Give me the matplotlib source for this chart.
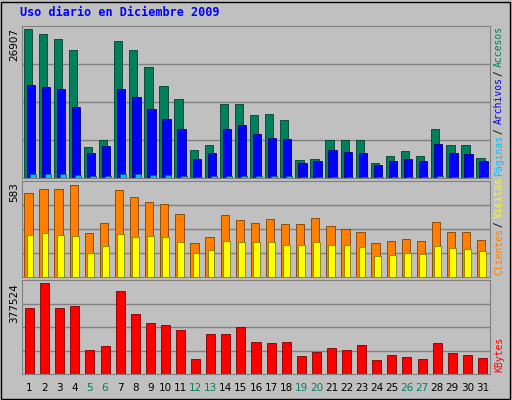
import matplotlib
matplotlib.use("Agg")
import matplotlib.pyplot as plt
import numpy as np

days = list(range(1, 32))
weekend = [5, 6, 12, 13, 19, 20, 26, 27]
hits_px = [29,34,39,50,146,139,41,50,67,86,99,149,144,104,104,114,113,119,159,158,139,139,139,162,155,150,155,128,144,144,157]
files_px = [85,87,89,106,152,145,89,97,108,118,128,158,152,128,124,133,137,138,162,160,149,151,152,164,160,158,160,143,152,153,160]
hits = [round((177-p)/148*26907) for p in hits_px]
hits[0] = 26907
files = [round((177-p)/148*26907) for p in files_px]
pages = [700,650,680,600,300,320,690,640,560,500,450,250,280,420,430,400,390,380,200,210,260,260,270,180,200,220,210,300,250,250,220]
visits_px = [191,187,187,184,232,222,188,195,200,203,213,242,236,214,219,222,218,223,223,217,225,228,231,242,240,238,240,221,231,231,239]
sites_px = [234,232,234,235,252,245,233,236,235,236,241,252,249,240,241,241,241,244,244,241,244,244,246,255,254,252,253,245,247,248,250]
visits = [round((276-p)/93*583) for p in visits_px]
visits[3] = 583
sites = [round((276-p)/93*583) for p in sites_px]
kb_px = [309,284,309,307,350,346,292,314,323,325,330,358,334,334,327,342,343,342,355,352,348,350,345,359,354,356,358,343,353,354,357]
kbytes = [round((373-p)/89*377524) for p in kb_px]
kbytes[1] = 377524

W, H = 512, 400
fig = plt.figure(figsize=(5.12, 4.0), dpi=100, facecolor="#C0C0C0")
fig.patches.append(plt.Rectangle((1/W, 1/H), 1-3/W, 1-3/H, transform=fig.transFigure,
                                 fill=False, ec="black", lw=1))
fig.text(20/W, 1-13/H, "Uso diario en Diciembre 2009", color="#0000FF", fontsize=8.5,
         fontweight="bold", family="DejaVu Sans Mono", va="center")

def mkax(top, bot):
    ax = fig.add_axes([22/W, 1-bot/H, 468/W, (bot-top)/H])
    ax.set_facecolor("#C0C0C0")
    ax.set_xlim(0, 31)
    ax.set_xticks([])
    ax.set_yticks([])
    for s in ax.spines.values():
        s.set_color("#808080")
    return ax

x = np.arange(31)
ax1 = mkax(26, 178)
mx = max(hits)
for f in (0.25, 0.5, 0.75):
    ax1.axhline(mx*1.02*f, color="#808080", lw=1, zorder=0)
ax1.bar(x+0.1, hits, 0.55, align="edge", color="#00805C", ec="#004030", lw=0.6)
ax1.bar(x+0.3, files, 0.55, align="edge", color="#0000FF", ec="#000080", lw=0.6)
ax1.bar(x+0.5, pages, 0.4, align="edge", color="#00C0FF", ec="#006080", lw=0.6)
ax1.set_ylim(0, mx*1.02)

ax2 = mkax(181, 277)
mx2 = max(visits)
for f in (0.25, 0.5, 0.75):
    ax2.axhline(mx2*1.04*f, color="#808080", lw=1, zorder=0)
ax2.bar(x+0.15, visits, 0.55, align="edge", color="#FF8000", ec="#804000", lw=0.6)
ax2.bar(x+0.3, sites, 0.45, align="edge", color="#FFFF00", ec="#808000", lw=0.6)
ax2.set_ylim(0, mx2*1.04)

ax3 = mkax(280, 374)
mx3 = max(kbytes)
for f in (0.25, 0.5, 0.75):
    ax3.axhline(mx3*1.03*f, color="#808080", lw=1, zorder=0)
ax3.bar(x+0.2, kbytes, 0.6, align="edge", color="#FF0000", ec="#800000", lw=0.6)
ax3.set_ylim(0, mx3*1.03)

for i, d in enumerate(days):
    fig.text((22 + (i+0.5)*468/31)/W, 1-388/H, str(d), ha="center", va="center", fontsize=7.5,
             color="#008060" if d in weekend else "black")

fig.text(14/W, 1-28/H, str(mx), rotation=90, ha="center", va="top", fontsize=7.5)
fig.text(14/W, 1-182/H, str(mx2), rotation=90, ha="center", va="top", fontsize=7.5)
fig.text(14/W, 1-283/H, str(mx3), rotation=90, ha="center", va="top", fontsize=7.5)

def rlabel(parts, ybot, step=5.2):
    y = ybot
    for t, c in parts:
        fig.text(499/W, 1-y/H, t, rotation=90, ha="center", va="bottom", fontsize=7,
                 color=c, family="DejaVu Sans Mono")
        y -= len(t)*step

rlabel([("Páginas", "#00C0FF"), (" / ", "black"), ("Archivos", "#0000FF"), (" / ", "black"), ("Accesos", "#00805C")], 176)
rlabel([("Clientes", "#FF8000"), (" / ", "black"), ("Visitas", "#FFFF00")], 275)
rlabel([("KBytes", "#FF0000")], 372)

fig.savefig("out.png", dpi=100, facecolor=fig.get_facecolor())
